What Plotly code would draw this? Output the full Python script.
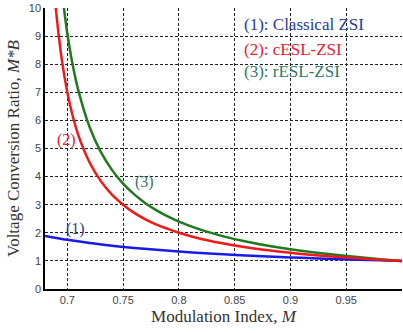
import plotly.graph_objects as go

# Classical ZSI
m1 = [0.68, 0.70, 0.72, 0.74, 0.76, 0.78, 0.80, 0.82, 0.84, 0.86, 0.88, 0.90, 0.92, 0.94, 0.96, 0.98, 1.00]
v1 = [1.889, 1.75, 1.636, 1.542, 1.462, 1.393, 1.333, 1.281, 1.235, 1.194, 1.158, 1.125, 1.095, 1.068, 1.043, 1.021, 1.0]

# cESL-ZSI
m2 = [0.688, 0.69, 0.695, 0.70, 0.705, 0.71, 0.72, 0.73, 0.74, 0.75, 0.76, 0.77, 0.78, 0.79, 0.80,
      0.82, 0.84, 0.86, 0.88, 0.90, 0.92, 0.94, 0.96, 0.98, 1.00]
v2 = [10.75, 9.86, 8.18, 7.0, 6.13, 5.46, 4.5, 3.84, 3.36, 3.0, 2.71, 2.48, 2.29, 2.14, 2.0,
      1.78, 1.62, 1.483, 1.375, 1.286, 1.211, 1.147, 1.091, 1.043, 1.0]

# rESL-ZSI
m3 = [0.696, 0.70, 0.705, 0.71, 0.72, 0.73, 0.74, 0.75, 0.76, 0.77, 0.78, 0.79, 0.80,
      0.82, 0.84, 0.86, 0.88, 0.90, 0.92, 0.94, 0.96, 0.98, 1.00]
v3 = [10.31, 9.1, 7.94, 7.05, 5.76, 4.88, 4.24, 3.75, 3.366, 3.055, 2.799, 2.584, 2.4,
      2.103, 1.874, 1.69, 1.54, 1.414, 1.307, 1.215, 1.135, 1.063, 1.0]

x_ticks = [0.7, 0.75, 0.8, 0.85, 0.9, 0.95]
x_tick_labels = ["0.7", "0.75", "0.8", "0.85", "0.9", "0.95"]
y_ticks = list(range(0, 11))

fig = go.Figure()
fig.add_trace(go.Scatter(x=m1, y=v1, mode="lines", line=dict(color="#1a1ae6", width=2.5, shape="spline"), showlegend=False))
fig.add_trace(go.Scatter(x=m3, y=v3, mode="lines", line=dict(color="#1e7a1e", width=2.5, shape="spline"), showlegend=False))
fig.add_trace(go.Scatter(x=m2, y=v2, mode="lines", line=dict(color="#f01818", width=2.5, shape="spline"), showlegend=False))

serif = "Liberation Serif, Times New Roman, serif"
sans = "Liberation Sans, Arial, sans-serif"

fig.update_layout(
    width=403, height=333,
    margin=dict(l=45, r=1, t=8, b=44),
    paper_bgcolor="white", plot_bgcolor="white",
    xaxis=dict(range=[0.68, 1.0], tickvals=x_ticks, ticktext=x_tick_labels,
               showgrid=True, gridcolor="#222", griddash="3px,2px", gridwidth=1,
               showline=True, linecolor="black", linewidth=1.5, zeroline=False,
               tickfont=dict(family=sans, size=11, color="#444"),
               title=dict(text="Modulation Index, <i>M</i>", font=dict(family=serif, size=17, color="#333"), standoff=5)),
    yaxis=dict(range=[0, 10], tickvals=y_ticks,
               showgrid=True, gridcolor="#222", griddash="3px,2px", gridwidth=1,
               showline=True, linecolor="black", linewidth=1.5, zeroline=False,
               tickfont=dict(family=sans, size=11, color="#444"),
               title=dict(text="Voltage Conversion Ratio, <i>M*B</i>", font=dict(family=serif, size=17, color="#333"), standoff=5)),
)

ann = [
    ("(1): Classical ZSI", 242, 24, "#2a3a9a"),
    ("(2): cESL-ZSI", 242, 50, "#e82030"),
    ("(3): rESL-ZSI", 242, 72, "#2e7a6a"),
]
for t, px, py, c in ann:
    fig.add_annotation(text=t, xref="paper", yref="paper",
                       x=(px - 45) / 357, y=1 - (py - 8) / 281,
                       xanchor="left", yanchor="middle", showarrow=False,
                       font=dict(family=serif, size=17, color=c))

for t, x, y, c in [("(1)", 0.707, 2.15, "#2a3a9a"), ("(2)", 0.6995, 5.3, "#e82030"), ("(3)", 0.769, 3.8, "#2e7a6a")]:
    fig.add_annotation(text=t, x=x, y=y, showarrow=False, font=dict(family=serif, size=16, color=c))

fig.write_html("out.html")
